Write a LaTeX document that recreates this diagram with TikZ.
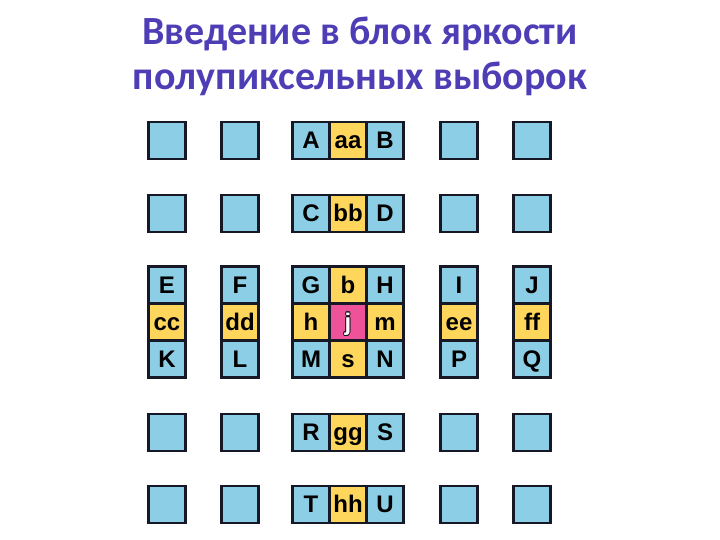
\documentclass[tikz,border=0pt]{standalone}
\usepackage{fontspec}
\usepackage{xcolor}
\usepackage{contour}
\usetikzlibrary{positioning}
\newfontfamily\titlefont{Carlito}
\newfontfamily\cellfont{Liberation Sans}
\definecolor{titleblue}{RGB}{78, 62, 182}
\definecolor{pixblue}{RGB}{140, 206, 230}
\definecolor{halfyel}{RGB}{255, 214, 92}
\definecolor{qpink}{RGB}{238, 82, 152}
\definecolor{edge}{RGB}{22, 24, 38}
\contourlength{0.7pt}

\begin{document}
\begin{tikzpicture}[x=1pt, y=1pt,
    cell/.style={draw=edge, line width=2.1pt, minimum size=37pt, inner sep=0pt, outer sep=0pt,
      font=\cellfont\bfseries\fontsize{24}{24}\selectfont, text height=17pt, text depth=0pt},
    bluecell/.style={cell, fill=pixblue},
    yelcell/.style={cell, fill=halfyel},
    pinkcell/.style={cell, fill=qpink}]
      \useasboundingbox (0,0) rectangle (720,540);

      % Title
      \node[titleblue, align=center, font=\titlefont\bfseries\fontsize{40}{45}\selectfont] (title) at (360,484) {Введение в блок яркости\\полупиксельных выборок};

      % Integer pixels far from the centre
      \foreach \c/\x in {1/167, 2/240, 4/459, 5/532} {
          \foreach \r/\y in {1/399.5, 2/326.5, 4/107.5, 5/35.5} {
              \node[bluecell] (sq\r\c) at (\x,\y) {};
            }
        }

      % Horizontal triples
      \node[bluecell] (A) at (311,399.5) {A};
      \node[yelcell, right=0pt of A] (aa) {aa};
      \node[bluecell, right=0pt of aa] (B) {B};
      \node[bluecell] (C) at (311,326.5) {C};
      \node[yelcell, right=0pt of C] (bb) {bb};
      \node[bluecell, right=0pt of bb] (D) {D};
      \node[bluecell] (R) at (311,107.5) {R};
      \node[yelcell, right=0pt of R] (gg) {gg};
      \node[bluecell, right=0pt of gg] (S) {S};
      \node[bluecell] (T) at (311,35.5) {T};
      \node[yelcell, right=0pt of T] (hh) {hh};
      \node[bluecell, right=0pt of hh] (U) {U};

      % Vertical triples
      \foreach \top/\mid/\bot/\x in {E/cc/K/167, F/dd/L/240, I/ee/P/459, J/ff/Q/532} {
          \node[bluecell] (\top) at (\x,255) {\top};
          \node[yelcell, below=0pt of \top] (\mid) {\mid};
          \node[bluecell, below=0pt of \mid] (\bot) {\bot};
        }

      % Centre block
      \node[bluecell] (G) at (311,255) {G};
      \node[yelcell, right=0pt of G] (b) {b};
      \node[bluecell, right=0pt of b] (H) {H};
      \node[yelcell, below=0pt of G] (h) {h};
      \node[pinkcell, right=0pt of h] (j) {\contour{edge}{\textcolor{white}{j}}};
      \node[yelcell, right=0pt of j] (m) {m};
      \node[bluecell, below=0pt of h] (M) {M};
      \node[yelcell, right=0pt of M] (s) {s};
      \node[bluecell, right=0pt of s] (N) {N};
    \end{tikzpicture}
\end{document}
